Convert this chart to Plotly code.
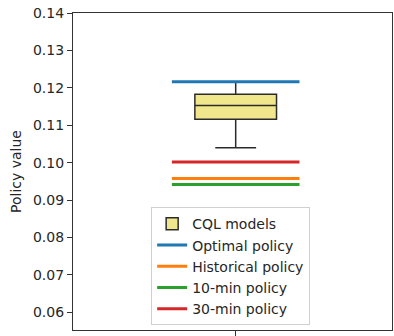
import plotly.graph_objects as go

# Data
box_name = "CQL models"
box_q1 = 0.1116
box_median = 0.1153
box_q3 = 0.1183
box_lower = 0.1040
box_upper = 0.1215

policy_names = ["Optimal policy", "Historical policy", "10-min policy", "30-min policy"]
policy_values = [0.1216, 0.0958, 0.0942, 0.1002]
policy_colors = ["#1f77b4", "#ff7f0e", "#2ca02c", "#d62728"]

y_ticks = [0.06, 0.07, 0.08, 0.09, 0.10, 0.11, 0.12, 0.13, 0.14]

fig = go.Figure()

fig.add_trace(go.Box(
    x=[1], q1=[box_q1], median=[box_median], q3=[box_q3],
    lowerfence=[box_lower], upperfence=[box_upper],
    name=box_name, width=0.256, whiskerwidth=0.5,
    fillcolor="#f0e68c", line=dict(color="#2b2b2b", width=1.5),
    boxpoints=False, showlegend=True,
))

for name, val, col in zip(policy_names, policy_values, policy_colors):
    fig.add_trace(go.Scatter(
        x=[0.8, 1.2], y=[val, val], mode="lines", name=name,
        line=dict(color=col, width=3),
    ))

fig.update_layout(
    width=394, height=336,
    margin=dict(l=73, r=1, t=13, b=2),
    plot_bgcolor="white", paper_bgcolor="white",
    font=dict(family="DejaVu Sans", size=13, color="#262626"),
    showlegend=True,
    legend=dict(
        x=0.245, y=0.015, xanchor="left", yanchor="bottom",
        bgcolor="rgba(255,255,255,0.9)", bordercolor="#d0d0d0", borderwidth=1,
        font=dict(size=14), tracegroupgap=0, itemwidth=30,
    ),
)

fig.update_xaxes(
    range=[0.49, 1.49], tickvals=[1], ticktext=[""],
    showline=True, linecolor="#333", linewidth=1.2, mirror=True,
    ticks="outside", ticklen=5, tickcolor="#333", showgrid=False, zeroline=False,
)
fig.update_yaxes(
    range=[0.0553, 0.14], tickvals=y_ticks,
    ticktext=[f"{v:.2f}" for v in y_ticks],
    showline=True, linecolor="#333", linewidth=1.2, mirror=True,
    ticks="outside", ticklen=5, tickcolor="#333", showgrid=False, zeroline=False,
    title=dict(text="Policy value", font=dict(size=14), standoff=8),
    tickfont=dict(size=14),
)

fig.write_html("out.html")
